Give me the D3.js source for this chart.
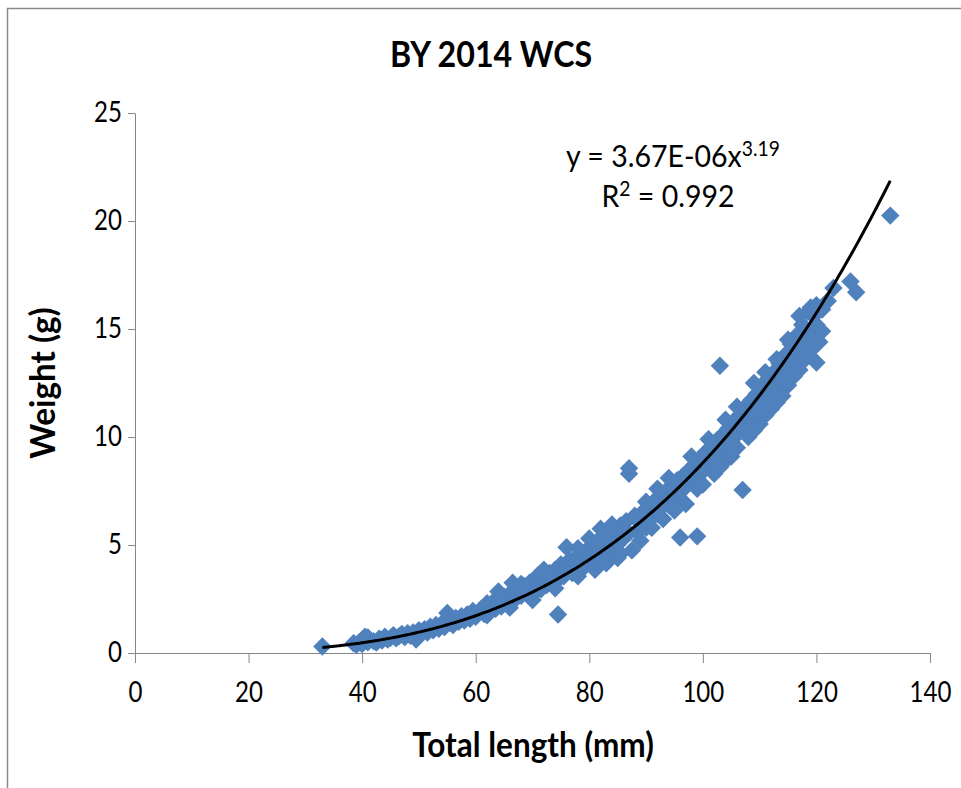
<!DOCTYPE html>
<html><head><meta charset="utf-8">
<script src="https://cdn.jsdelivr.net/npm/d3@7"></script>
<style>
html,body{margin:0;padding:0;background:#fff;}
svg{display:block;}
text{font-family:Lato,"Open Sans",sans-serif;fill:#000;}
</style></head><body>
<svg id="chart" width="961" height="788"></svg>
<script>
// ---- data ----
const chartTitle = "BY 2014 WCS";
const xAxisTitle = "Total length (mm)";
const yAxisTitle = "Weight (g)";
const xTickValues = [0, 20, 40, 60, 80, 100, 120, 140];
const yTickValues = [0, 5, 10, 15, 20, 25];
const trendCoefA = 3.67e-6;
const trendExpB = 3.19;
const trendRange = [33, 133];
const equationMain = "y = 3.67E-06x";
const equationExp = "3.19";
const rSquaredLabel = "0.992";

const lengthMm = [
  33, 38.5, 39, 39.5, 40, 40.5, 41, 41, 42, 42.5, 43, 43.5, 44, 44.5, 45, 45.5, 46, 46.5, 47, 47.5, 48, 48.5, 49, 49.5, 50, 50, 51, 51.5, 52,
  52.5, 53, 53.5, 54, 54.5, 55, 55.5, 56, 56.5, 57, 57.5, 58, 58.5, 59, 59.5, 60, 60.5,
  61, 61.5, 62, 62.5, 63, 63.5, 64, 64.5, 65, 65.5, 66, 66.5, 67, 67.5, 68, 68.5, 69, 69.5, 70, 70.5, 71, 71.5, 72, 72.5, 73, 73.5, 74, 74.5, 74.5, 75, 75.5, 76, 76,
  76.5, 77, 77.5, 78, 78.5, 79, 79.5, 80, 80.5, 81, 81.5, 82, 82, 82.5, 83, 83.5, 84, 84.5, 85, 85.5, 85.5, 86, 86.5, 87, 87, 87, 87.5, 88, 88.5, 89, 89.5, 90,
  90.5, 91, 91.5, 92, 92.5, 93, 93.5, 94, 94.5, 95, 95.5, 96, 96, 96.5, 97, 97.5, 98, 98.5, 99, 99, 99.5, 100, 100.5, 101, 101.5, 102, 102.5, 103, 103, 103.5, 104, 104.5, 105, 105.5, 106, 106.5, 107, 107, 107.5, 108, 108.5, 109, 109.5, 110,
  110.5, 111, 111.5, 112, 112.5, 113, 113.5, 114, 114.5, 115, 115.5, 116, 116.5, 117, 117.5, 118, 118.5, 119, 119.5, 120, 120, 120.5, 121, 122, 123, 126, 127, 133,
  85, 89, 91, 93, 95, 97, 100, 102, 104, 106, 108, 110, 112, 114, 116, 118,
  64, 68, 72, 78, 80, 84, 90, 92, 94, 98, 101, 104, 106, 109, 111, 113, 115, 117, 119, 120,
  62, 66, 70, 74, 78, 81, 83, 99, 103, 105, 109, 111, 113, 115, 117, 119, 121
];
const weightG = [
  0.30, 0.45, 0.38, 0.50, 0.42, 0.75, 0.50, 0.72, 0.55, 0.48, 0.66, 0.58, 0.75, 0.62, 0.70, 0.82, 0.68, 0.78, 0.88, 0.74, 0.92, 0.80, 0.95, 0.62, 1.05, 0.88, 1.10, 0.95, 1.22,
  1.05, 1.30, 1.12, 1.35, 1.20, 1.85, 1.40, 1.30, 1.62, 1.45, 1.70, 1.50, 1.78, 1.58, 1.95, 1.68, 1.88,
  2.05, 1.80, 2.30, 1.92, 2.35, 2.05, 2.45, 2.15, 2.60, 2.30, 2.75, 3.25, 2.50, 2.95, 2.65, 3.10, 2.80, 3.25, 2.70, 3.45, 3.60, 2.95, 3.50, 3.15, 3.70, 3.20, 3.85, 1.78, 3.40, 4.10, 3.55, 4.90, 3.80,
  4.30, 3.70, 4.40, 4.05, 4.60, 3.95, 4.75, 4.25, 4.90, 4.05, 5.20, 4.50, 5.75, 5.00, 4.40, 5.40, 4.85, 5.60, 5.05, 4.60, 5.90, 5.30, 6.10, 8.55, 8.30, 5.55, 4.75, 6.35, 5.60, 6.00, 6.55, 5.80,
  6.70, 6.25, 7.05, 6.45, 7.30, 6.80, 7.50, 6.85, 7.70, 7.15, 8.00, 5.35, 7.45, 8.20, 7.70, 8.45, 7.90, 8.70, 5.40, 8.10, 9.00, 8.40, 9.30, 8.70, 9.55, 8.90, 9.85, 13.30, 9.30, 10.10, 9.50, 10.40, 9.80, 10.75, 10.10, 11.00, 7.55, 10.40, 11.40, 10.70, 11.70, 11.10, 12.00, 11.40,
  12.40, 11.70, 12.70, 12.00, 13.00, 12.30, 13.40, 12.70, 13.80, 13.10, 14.30, 13.50, 14.70, 14.00, 15.20, 14.40, 15.80, 14.80, 15.60, 13.45, 15.20, 14.40, 15.90, 16.30, 16.90, 17.20, 16.70, 20.25,
  4.40, 5.20, 5.80, 6.20, 6.60, 6.90, 7.80, 8.30, 8.90, 9.50, 10.00, 10.60, 11.30, 11.90, 12.80, 13.60,
  2.85, 3.20, 3.85, 4.85, 5.30, 5.95, 7.00, 7.60, 8.10, 9.10, 9.90, 10.80, 11.40, 12.50, 13.00, 13.60, 14.50, 15.60, 16.00, 16.10,
  1.75, 2.10, 2.45, 3.00, 3.55, 3.85, 4.15, 7.60, 8.60, 9.10, 10.30, 11.00, 11.60, 12.40, 13.10, 14.00, 14.90
];

// ---- drawing ----
const svg = d3.select("#chart");
const axisColor = "#868686";
const pointColor = "#4F81BD";
const sx = 0.86; // horizontal condensing to mimic Calibri

// outer frame
svg.append("rect").attr("x", 7.5).attr("y", 8.5).attr("width", 1200).attr("height", 1200)
  .attr("fill", "none").attr("stroke", "#8a8a8a").attr("stroke-width", 1.5);

const x = d3.scaleLinear().domain([0, 140]).range([135, 930]);
const y = d3.scaleLinear().domain([0, 25]).range([653, 113]);

// x axis
const gx = svg.append("g").attr("transform", `translate(0,${y(0)})`)
  .call(d3.axisBottom(x).tickValues(xTickValues).tickSizeInner(10).tickSizeOuter(0).tickPadding(19));
gx.select(".domain").attr("stroke", axisColor);
gx.selectAll(".tick line").attr("stroke", axisColor);
gx.selectAll(".tick text").attr("font-family", "Lato, 'Open Sans', sans-serif")
  .attr("font-size", 28).attr("fill", "#000").attr("transform", `scale(${sx},1)`);

// y axis
const gy = svg.append("g").attr("transform", `translate(${x(0)},0)`)
  .call(d3.axisLeft(y).tickValues(yTickValues).tickSizeInner(7).tickSizeOuter(0).tickPadding(12));
gy.select(".domain").attr("stroke", axisColor);
gy.selectAll(".tick line").attr("stroke", axisColor);
gy.selectAll(".tick text").attr("font-family", "Lato, 'Open Sans', sans-serif")
  .attr("font-size", 28).attr("fill", "#000")
  .attr("x", -13 / sx).attr("transform", `scale(${sx},1)`);

// points
const pts = lengthMm.map((L, i) => ({ L, W: weightG[i] }));
const diamond = d3.symbol().type(d3.symbolSquare).size(170);
svg.append("g").selectAll("path").data(pts).join("path")
  .attr("d", diamond)
  .attr("transform", d => `translate(${x(d.L)},${y(d.W)}) rotate(45)`)
  .attr("fill", pointColor);

// power trendline from the fitted coefficients shown on the chart
const trendXs = d3.range(trendRange[0], trendRange[1] + 0.001, 0.5);
const line = d3.line().x(d => x(d)).y(d => y(trendCoefA * Math.pow(d, trendExpB))).curve(d3.curveMonotoneX);
svg.append("path").datum(trendXs).attr("d", line)
  .attr("fill", "none").attr("stroke", "#000").attr("stroke-width", 3);

// title
svg.append("text").attr("transform", `translate(491,67) scale(0.87,1)`)
  .attr("text-anchor", "middle").attr("font-weight", 700).attr("font-size", 37).text(chartTitle);

// axis titles
svg.append("text").attr("transform", `translate(533,757) scale(0.9,1)`)
  .attr("text-anchor", "middle").attr("font-weight", 700).attr("font-size", 35).text(xAxisTitle);
svg.append("text").attr("transform", `translate(55,383) rotate(-90) scale(0.95,1)`)
  .attr("text-anchor", "middle").attr("font-weight", 700).attr("font-size", 35).text(yAxisTitle);

// equation
const eq = svg.append("text").attr("transform", `translate(673,167) scale(0.92,1)`)
  .attr("text-anchor", "middle").attr("font-size", 31);
eq.append("tspan").text(equationMain);
eq.append("tspan").attr("font-size", 21).attr("dy", -11).text(equationExp);

const r2 = svg.append("text").attr("transform", `translate(668,207) scale(0.92,1)`)
  .attr("text-anchor", "middle").attr("font-size", 31);
r2.append("tspan").text("R");
r2.append("tspan").attr("font-size", 21).attr("dy", -11).text("2");
r2.append("tspan").attr("dy", 11).text(" = " + rSquaredLabel);
</script>
</body></html>
